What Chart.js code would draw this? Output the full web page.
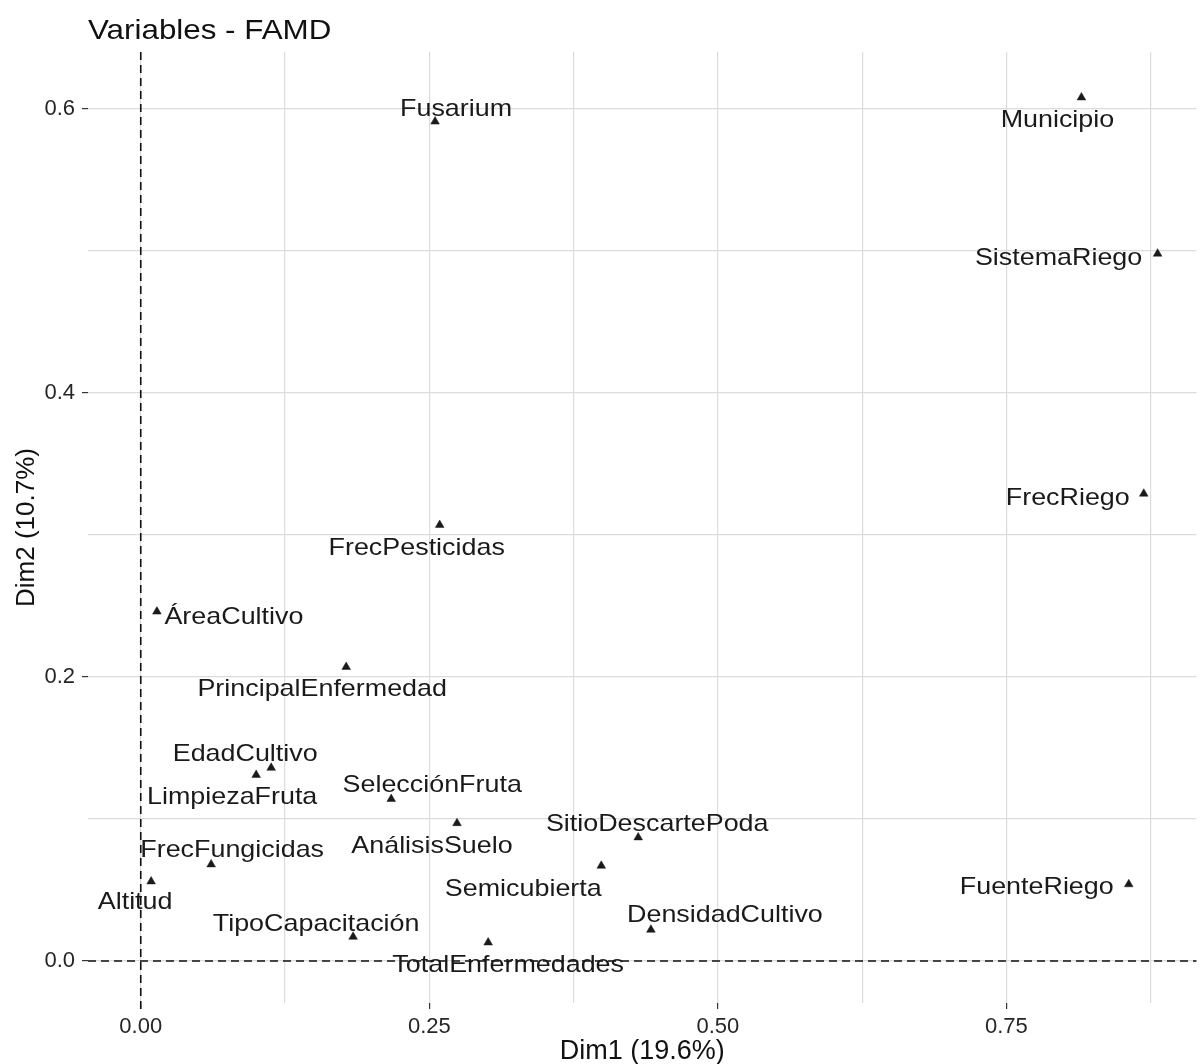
<!DOCTYPE html>
<html>
<head>
<meta charset="utf-8">
<script src="https://cdn.jsdelivr.net/npm/chart.js@4/dist/chart.umd.min.js"></script>
<style>
html,body{margin:0;padding:0;background:#fff;}
#wrap{width:1202px;height:1064px;}
canvas{display:block;}
</style>
</head>
<body>
<div id="wrap"><canvas id="c" width="1202" height="1064"></canvas></div>
<script>
// ---- data ----
const variables = ['Municipio','SistemaRiego','FrecRiego','FuenteRiego','Fusarium','FrecPesticidas','ÁreaCultivo','PrincipalEnfermedad','EdadCultivo','LimpiezaFruta','SelecciónFruta','AnálisisSuelo','SitioDescartePoda','Semicubierta','FrecFungicidas','Altitud','DensidadCultivo','TipoCapacitación','TotalEnfermedades'];
const dim1 = [0.815,0.881,0.869,0.856,0.255,0.259,0.014,0.178,0.113,0.100,0.217,0.274,0.431,0.399,0.061,0.009,0.442,0.184,0.301];
const dim2 = [0.608,0.498,0.329,0.054,0.591,0.307,0.246,0.207,0.136,0.131,0.114,0.097,0.087,0.067,0.068,0.056,0.022,0.017,0.013];
const xMajorTicks = [0, 0.25, 0.5, 0.75];
const xMinorTicks = [0.125, 0.375, 0.625, 0.875];
const yMajorTicks = [0, 0.2, 0.4, 0.6];
const yMinorTicks = [0.1, 0.3, 0.5];
const xTickLabels = ['0.00', '0.25', '0.50', '0.75'];
const yTickLabels = ['0.0', '0.2', '0.4', '0.6'];
const titleText = 'Variables - FAMD';
const xTitle = 'Dim1 (19.6%)';
const yTitle = 'Dim2 (10.7%)';

// ---- label layout (pixel offsets of label centre / baseline from point) ----
const labelOffsets = [[-24,30],[-99,11],[-76,11],[-92,10],[21,-6],[-23,30],[77,12],[-24,29],[-26,-7],[-24,29],[41,-7],[-25,30],[19,-6],[-78,30],[21,-7],[-16,28],[74,-8],[-37,-6],[20,30]];

const FONT = '"Liberation Sans", Arial, Helvetica, sans-serif';
const TEXT_STRETCH = 1.12;

const points = dim1.map((x, i) => ({x: x, y: dim2[i]}));

const labelPlugin = {
  id: 'labels',
  afterDatasetsDraw(chart) {
    const ctx = chart.ctx;
    const meta = chart.getDatasetMeta(0);
    ctx.save();
    ctx.font = '24px ' + FONT;
    ctx.fillStyle = '#1a1a1a';
    ctx.textAlign = 'center';
    ctx.textBaseline = 'alphabetic';
    meta.data.forEach((el, i) => {
      const off = labelOffsets[i];
      ctx.save();
      ctx.translate(el.x + off[0], el.y + off[1]);
      ctx.scale(TEXT_STRETCH, 1);
      ctx.fillText(variables[i], 0, 0);
      ctx.restore();
    });
    ctx.restore();
  }
};

const refLinesPlugin = {
  id: 'refLines',
  beforeDatasetsDraw(chart) {
    const ctx = chart.ctx;
    const xs = chart.scales.x, ys = chart.scales.y;
    const a = chart.chartArea;
    const x0 = xs.getPixelForValue(0);
    const y0 = ys.getPixelForValue(0);
    ctx.save();
    ctx.strokeStyle = '#111';
    ctx.lineWidth = 1.6;
    ctx.setLineDash([8, 5]);
    ctx.beginPath();
    ctx.moveTo(a.left, y0);
    ctx.lineTo(a.right, y0);
    ctx.stroke();
    ctx.beginPath();
    ctx.moveTo(x0, a.top);
    ctx.lineTo(x0, a.bottom + 7);
    ctx.stroke();
    ctx.restore();
  }
};

const titlePlugin = {
  id: 'mainTitle',
  afterDraw(chart) {
    const ctx = chart.ctx;
    ctx.save();
    ctx.font = '28px ' + FONT;
    ctx.fillStyle = '#111';
    ctx.textAlign = 'left';
    ctx.textBaseline = 'alphabetic';
    ctx.translate(chart.chartArea.left, 39);
    ctx.scale(TEXT_STRETCH, 1);
    ctx.fillText(titleText, 0, 0);
    ctx.restore();
  }
};

const gridColor = '#dcdcdc';

new Chart(document.getElementById('c'), {
  type: 'scatter',
  data: {
    datasets: [{
      data: points,
      pointStyle: 'triangle',
      pointRadius: 5,
      pointHoverRadius: 5,
      backgroundColor: '#1a1a1a',
      borderColor: '#1a1a1a',
      borderWidth: 0.5
    }]
  },
  options: {
    responsive: false,
    animation: false,
    events: [],
    layout: {padding: {top: 52, right: 0, left: 0, bottom: 0}},
    plugins: {legend: {display: false}, tooltip: {enabled: false}, title: {display: false}},
    scales: {
      x: {
        type: 'linear',
        min: -0.0457,
        max: 0.9147,
        afterBuildTicks: s => { s.ticks = xMajorTicks.concat(xMinorTicks).sort((a,b)=>a-b).map(v => ({value: v})); },
        afterFit: s => { s.height = 61; },
        border: {display: false},
        grid: {
          color: gridColor,
          lineWidth: 1.2,
          drawTicks: true,
          tickLength: 6,
          tickWidth: 1.2,
          tickColor: c => (c.tick && xMajorTicks.includes(c.tick.value)) ? '#333' : 'rgba(0,0,0,0)'
        },
        ticks: {
          autoSkip: false,
          maxRotation: 0,
          padding: 5,
          color: '#262626',
          font: {size: 22, family: FONT},
          callback: v => { const k = xMajorTicks.indexOf(v); return k >= 0 ? xTickLabels[k] : ''; }
        },
        title: {
          display: true,
          text: xTitle,
          color: '#111',
          font: {size: 27, family: FONT, lineHeight: 0.92},
          padding: {top: 0, bottom: 0}
        }
      },
      y: {
        type: 'linear',
        min: -0.0296,
        max: 0.640,
        afterBuildTicks: s => { s.ticks = yMajorTicks.concat(yMinorTicks).sort((a,b)=>a-b).map(v => ({value: v})); },
        afterFit: s => { s.width = 88; },
        border: {display: false},
        grid: {
          color: gridColor,
          lineWidth: 1.2,
          drawTicks: true,
          tickLength: 6,
          tickWidth: 1.2,
          tickColor: c => (c.tick && yMajorTicks.includes(c.tick.value)) ? '#333' : 'rgba(0,0,0,0)'
        },
        ticks: {
          autoSkip: false,
          padding: 7,
          color: '#262626',
          font: {size: 22, family: FONT},
          callback: v => { const k = yMajorTicks.indexOf(v); return k >= 0 ? yTickLabels[k] : ''; }
        },
        title: {
          display: true,
          text: yTitle,
          color: '#111',
          font: {size: 26, family: FONT, lineHeight: 0.92},
          padding: {top: 15, bottom: 0}
        }
      }
    }
  },
  plugins: [refLinesPlugin, labelPlugin, titlePlugin]
});
</script>
</body>
</html>
